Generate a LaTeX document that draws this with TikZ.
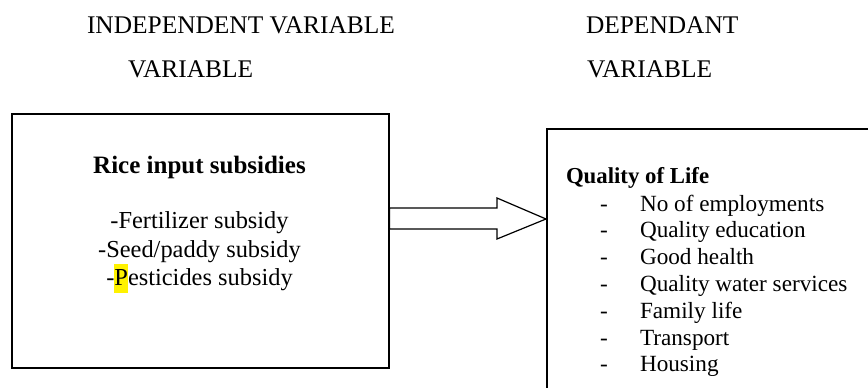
\documentclass[tikz,border=0pt]{standalone}
\usepackage{fontspec}
\setmainfont{Liberation Serif}
\usetikzlibrary{calc}
\tikzset{
  txt/.style={inner sep=0pt, outer sep=0pt},
  titletxt/.style={txt, anchor=base west, font=\fontsize{25.4}{29}\selectfont},
  headtxt/.style={txt, font=\bfseries\fontsize{25}{29}\selectfont},
  bodytxt/.style={txt, anchor=base, font=\fontsize{24.4}{28}\selectfont},
  itemtxt/.style={txt, anchor=base west, font=\fontsize{23.2}{27}\selectfont},
  frame/.style={draw, line width=1.5pt, inner sep=0pt, anchor=north west},
  blockarrow/.style={draw, line width=1.2pt, fill=white, line join=miter}
}
\begin{document}
\begin{tikzpicture}[x=1pt,y=-1pt]
\useasboundingbox (0,0) rectangle (868,388);
\clip (0,0) rectangle (868,388);
% titles
\node[titletxt] (t1) at (87,33) {INDEPENDENT VARIABLE};
\node[titletxt] (t2) at (128,77) {VARIABLE};
\node[titletxt] (t3) at (586,33) {DEPENDANT};
\node[titletxt] (t4) at (587,77) {VARIABLE};
% boxes
\node[frame, minimum width=377pt, minimum height=254pt] (lbox) at (11,113) {};
\node[frame, minimum width=340pt, minimum height=290pt] (rbox) at (546,128) {};
% arrow
\draw[blockarrow] (lbox.east |- 0,208) -- (497,208) -- (497,198)
  -- (rbox.west |- 0,219) -- (497,239) -- (497,229) -- (lbox.east |- 0,229) -- cycle;
% left box text
\node[headtxt, anchor=base] (lhead) at (199.5,173) {Rice input subsidies};
\node[bodytxt] (l1) at (199.5,228) {-Fertilizer subsidy};
\node[bodytxt] (l2) at (199.5,257) {-Seed/paddy subsidy};
\node[bodytxt] (l3) at (199.5,285) {-{\setlength{\fboxsep}{0pt}\colorbox{yellow}{\rule[-8pt]{0pt}{29pt}P}}esticides subsidy};
% right box text
\node[headtxt, anchor=base west, font=\bfseries\fontsize{22.8}{27}\selectfont] (rhead) at (566,183) {Quality of Life};
\foreach \t [count=\i] in {No of employments, Quality education, Good health, Quality water services, Family life, Transport, Housing}{
  \node[itemtxt] (d\i) at (600,{211+26.8*(\i-1)}) {-};
  \node[itemtxt] (r\i) at (640,{211+26.8*(\i-1)}) {\t};
}
\end{tikzpicture}
\end{document}
